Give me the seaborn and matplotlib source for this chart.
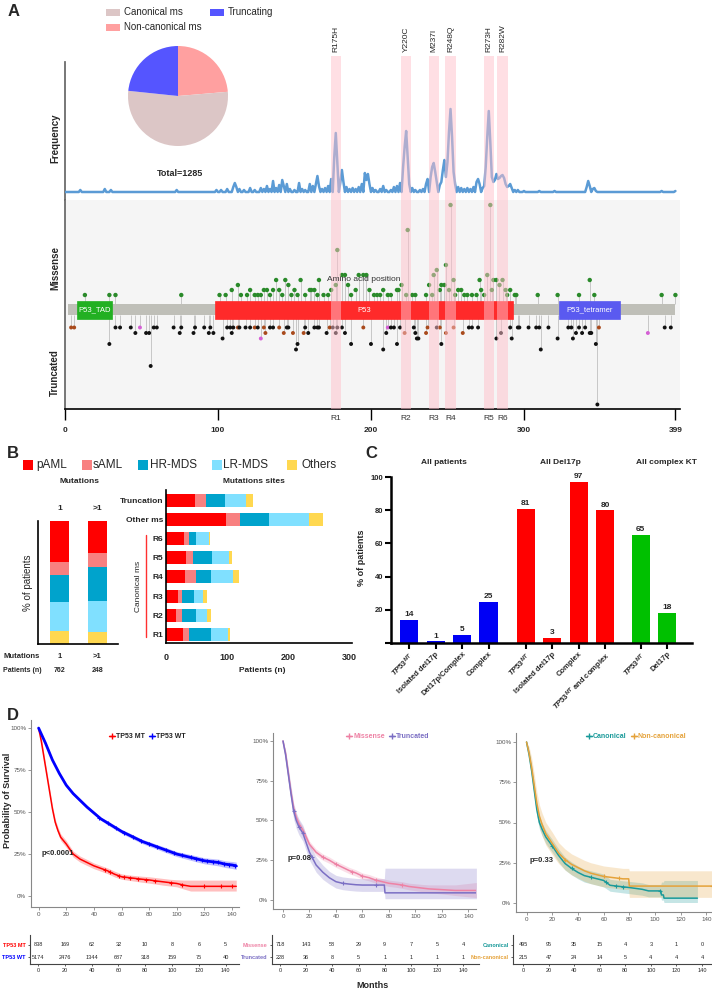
import numpy as np
import matplotlib
matplotlib.use("Agg")
import matplotlib.pyplot as plt
from matplotlib.patches import Rectangle
from matplotlib.lines import Line2D
import seaborn as sns

W, H = 712, 991

# ---------------------------------------------------------------------------
# Data
# ---------------------------------------------------------------------------

# Panel A - pie
pie_labels = ["Non-canonical ms", "Canonical ms", "Truncating"]
pie_counts = [304, 681, 300]
pie_colors = ["#FFA0A0", "#DCC6C6", "#5555FF"]
total_mutations = 1285

# Panel A - hotspots
hotspot_labels = ["R175H", "Y220C", "M237I", "R248Q", "R273H", "R282W"]
hotspot_pos = [177, 223, 241, 252, 277, 286]
region_labels = ["R1", "R2", "R3", "R4", "R5", "R6"]

# Panel A - frequency trace (nonzero positions only)
freq_pos = [10, 26, 30, 73, 99, 102, 106, 110, 111, 112, 114, 117, 121, 124, 128, 130,
            132, 134, 136, 138, 140, 142, 143, 145, 147, 150, 153, 155, 157, 160, 162,
            164, 165, 166, 168, 170, 172, 174, 176, 177, 178, 180, 181, 182, 184, 186,
            188, 190, 192, 194, 196, 197, 198, 199, 201, 203, 206, 208, 210, 213, 215,
            217, 219, 221, 222, 223, 224, 225, 227, 229, 232, 234, 236, 237, 239, 240,
            241, 242, 243, 245, 246, 247, 248, 249, 250, 251, 252, 253, 254, 255, 257,
            259, 261, 263, 265, 267, 269, 270, 271, 273, 274, 275, 276, 277, 278, 279,
            280, 281, 282, 283, 284, 285, 286, 287, 288, 289, 290, 291, 292, 294, 296,
            300, 310, 320, 341, 342, 343, 345, 346, 347, 390, 399]
freq_val = [2, 3, 2, 2, 2, 2, 3, 5, 9, 5, 3, 2, 4, 2, 4, 3,
            6, 3, 11, 4, 7, 12, 6, 8, 3, 2, 9, 3, 2, 8, 6,
            8, 16, 6, 3, 4, 6, 13, 35, 59, 30, 10, 22, 10, 5, 3,
            4, 3, 5, 8, 19, 12, 18, 8, 4, 2, 3, 6, 2, 2, 5,
            6, 9, 25, 45, 61, 35, 8, 4, 2, 2, 3, 8, 13, 15, 25,
            29, 20, 10, 7, 10, 22, 32, 15, 30, 60, 83, 55, 20, 8, 5,
            4, 3, 4, 3, 5, 10, 13, 8, 4, 6, 25, 55, 81, 50, 15,
            10, 12, 18, 13, 14, 16, 17, 14, 8, 5, 6, 8, 4, 2, 2,
            1, 1, 1, 5, 11, 6, 3, 4, 1, 1, 1]

# Panel A - missense lollipops (position, count)
missense_pos = [13, 29, 33, 76, 101, 105, 109, 113, 115, 119, 121, 124, 126, 128, 130, 132,
                134, 136, 138, 140, 142, 144, 146, 148, 150, 152, 154, 157, 160, 161, 163,
                165, 166, 169, 172, 174, 177, 178, 181, 183, 185, 187, 190, 192, 195, 197,
                199, 202, 204, 206, 208, 211, 213, 217, 218, 220, 223, 224, 227, 229, 236,
                238, 240, 241, 243, 245, 246, 248, 249, 251, 252, 254, 255, 257, 259, 261,
                263, 266, 269, 271, 272, 274, 276, 278, 279, 280, 282, 284, 286, 288, 289,
                291, 294, 295, 309, 322, 336, 343, 346, 390, 399]
missense_cnt = [1, 1, 1, 1, 1, 1, 2, 3, 1, 1, 2, 1, 1, 1, 2, 2,
                1, 2, 4, 2, 1, 4, 3, 1, 2, 1, 4, 1, 2, 2, 2,
                1, 4, 1, 1, 2, 3, 10, 5, 5, 3, 1, 2, 5, 5, 5,
                2, 1, 1, 1, 2, 1, 1, 2, 2, 3, 1, 14, 1, 1, 1,
                3, 1, 5, 6, 2, 3, 3, 7, 2, 19, 4, 1, 2, 2, 1,
                1, 1, 1, 4, 2, 1, 5, 19, 2, 4, 4, 3, 4, 2, 1,
                2, 1, 1, 1, 1, 1, 4, 1, 1, 1]

# Panel A - truncating lollipops (position, count, type)
trunc_pos = [4, 6, 29, 33, 36, 43, 46, 49, 53, 55, 56, 58, 60, 71, 75, 76, 84, 85, 91, 94,
             95, 97, 103, 106, 108, 109, 110, 113, 114, 118, 121, 124, 126, 128, 130, 131,
             134, 136, 140, 143, 145, 146, 149, 151, 152, 156, 157, 159, 163, 165, 166,
             171, 173, 175, 177, 178, 181, 183, 187, 195, 200, 208, 210, 211, 213, 215,
             217, 219, 222, 228, 229, 230, 231, 236, 237, 243, 245, 246, 249, 254, 260,
             264, 266, 270, 282, 285, 291, 292, 296, 297, 303, 308, 310, 311, 316, 322,
             329, 331, 332, 334, 336, 338, 340, 343, 344, 347, 348, 349, 381, 392, 396]
trunc_cnt = [1, 1, 4, 1, 1, 1, 2, 1, 2, 2, 8, 1, 1, 1, 2, 1, 2, 1, 1, 2,
             1, 2, 3, 1, 1, 2, 1, 1, 1, 1, 1, 1, 1, 3, 1, 2,
             1, 1, 1, 2, 1, 1, 2, 5, 4, 2, 1, 2, 1, 1, 1,
             2, 1, 1, 2, 1, 1, 2, 4, 1, 4, 5, 2, 1, 1, 1,
             4, 1, 2, 1, 2, 3, 3, 2, 1, 1, 1, 4, 2, 1, 2,
             1, 1, 1, 3, 2, 1, 3, 1, 1, 1, 1, 1, 5, 1, 3,
             1, 1, 3, 2, 1, 2, 1, 2, 2, 4, 15, 1, 2, 1, 1]
trunc_type = ["fs", "fs", "non", "non", "non", "non", "non", "spl", "non", "non", "non", "non",
              "non", "non", "non", "non", "non", "non", "non", "non",
              "non", "non", "non", "non", "non", "non", "non", "fs", "non", "non", "non", "fs",
              "non", "spl", "fs", "fs",
              "non", "non", "fs", "fs", "non", "non", "fs", "non", "non", "fs", "non", "non",
              "non", "non", "non",
              "non", "fs", "non", "non", "non", "non", "non", "non", "fs", "non", "non", "non",
              "spl", "non", "non",
              "non", "non", "fs", "non", "non", "non", "non", "fs", "fs", "non", "fs", "non",
              "fs", "fs", "fs",
              "non", "non", "non", "non", "non", "non", "non", "non", "non", "non", "non",
              "non", "non", "non", "non",
              "non", "non", "non", "non", "non", "non", "non", "non", "non", "non", "non",
              "fs", "spl", "non", "non"]

domain_names = ["P53_TAD", "P53", "P53_tetramer"]
domain_start = [8, 98, 323]
domain_end = [31, 293, 363]
domain_colors = ["#22B022", "#FF2A2A", "#5A5AF0"]

# Panel B - legend / categories
dx_names = ["pAML", "sAML", "HR-MDS", "LR-MDS", "Others"]
dx_colors = ["#FF0000", "#F88080", "#00A3CC", "#80E0FF", "#FFD850"]

# Panel B left - % by number of mutations
mut_groups = ["1", ">1"]
mut_patients = [762, 248]
mut_pct = {
    "pAML":   [33.3, 26.0],
    "sAML":   [10.6, 11.4],
    "HR-MDS": [22.0, 27.6],
    "LR-MDS": [23.6, 25.2],
    "Others": [10.5, 9.8],
}

# Panel B right - patients by mutation site
site_labels = ["Truncation", "Other ms", "R6", "R5", "R4", "R3", "R2", "R1"]
site_counts = {
    "pAML":   [47, 98, 29, 33, 31, 20, 16, 28],
    "sAML":   [18, 24, 8, 12, 19, 6, 11, 9],
    "HR-MDS": [31, 47, 13, 30, 23, 20, 23, 36],
    "LR-MDS": [36, 65, 20, 28, 37, 14, 18, 28],
    "Others": [11, 23, 2, 5, 10, 7, 6, 4],
}

# Panel C
c_labels = [r"$\it{TP53}^{MT}$", "Isolated del17p", "Del17p/Complex", "Complex",
            r"$\it{TP53}^{MT}$", "Isolated del17p", "Complex", r"$\it{TP53}^{MT}$ and complex",
            r"$\it{TP53}^{MT}$", "Del17p"]
c_values = [14, 1, 5, 25, 81, 3, 97, 80, 65, 18]
c_group = ["All patients"] * 4 + ["All Del17p"] * 4 + ["All complex KT"] * 2
group_colors = {"All patients": "#0000F5", "All Del17p": "#FF0000", "All complex KT": "#00C000"}

# Panel D - Kaplan-Meier curves (months, survival %)
mt_t = [0, 2, 4, 6, 8, 10, 12, 14, 16, 18, 20, 25, 30, 35, 40, 45, 50, 55, 60, 65, 70, 75,
        80, 85, 90, 95, 100, 105, 110, 143]
mt_s = [100, 92, 82, 72, 62, 52, 44, 39, 35, 33, 31, 25, 22, 20, 18, 16.5, 15, 13, 11.5, 11,
        10.5, 10, 9.6, 9, 8.5, 8, 7.5, 6.5, 5.8, 5.8]
mt_lo = [100, 90, 80, 70, 60, 50, 42, 37, 33, 31, 29, 23.2, 20.2, 18.2, 16.3, 14.8, 13.3,
         11.4, 10, 9.4, 8.8, 8.2, 7.7, 7.1, 6.5, 6, 5.5, 4.2, 3, 3]
mt_hi = [100, 94, 84, 74, 64, 54, 46, 41, 37, 35, 33, 26.8, 23.8, 21.8, 19.7, 18.2, 16.7,
         14.8, 13.2, 12.6, 12.2, 11.8, 11.5, 11, 10.5, 10, 9.7, 9.5, 9.5, 9.5]
mt_cens = [48, 52, 58, 62, 66, 72, 78, 84, 96, 104, 120, 132, 140]

wt_t = [0, 5, 10, 15, 20, 25, 30, 35, 40, 45, 50, 55, 60, 65, 70, 75, 80, 85, 90, 95, 100,
        105, 110, 115, 120, 125, 130, 135, 140, 143]
wt_s = [100, 91, 81, 73, 66, 61, 57, 53, 49.5, 46, 43.5, 41, 38.5, 36.5, 34.5, 32.5, 31,
        29.5, 28, 26.5, 25, 24, 23, 22, 21, 20.5, 20, 19, 18.5, 18]
wt_lo = [100, 90, 80, 72, 65, 60, 56, 52, 48.5, 45, 42.3, 39.8, 37.3, 35.2, 33.2, 31.2, 29.6,
         28.1, 26.5, 25, 23.5, 22.4, 21.3, 20.2, 19.2, 18.6, 18, 17, 16.4, 15.8]
wt_hi = [100, 92, 82, 74, 67, 62, 58, 54, 50.5, 47, 44.7, 42.2, 39.7, 37.8, 35.8, 33.8, 32.4,
         30.9, 29.5, 28, 26.5, 25.6, 24.7, 23.8, 22.8, 22.4, 22, 21, 20.6, 20.2]
wt_cens = [44, 50, 56, 62, 68, 74, 80, 86, 92, 98, 104, 110, 114, 118, 122, 126, 130, 134,
           138, 142]

mis_t = [0, 2, 4, 6, 8, 10, 12, 15, 20, 25, 30, 35, 40, 45, 50, 55, 60, 65, 70, 75, 80, 85,
         90, 95, 100, 105, 110, 120, 130, 146]
mis_s = [100, 92, 80, 68, 58, 52, 48, 44, 35, 30, 27, 25, 22.5, 20.5, 18.5, 17, 15, 14,
         12.5, 11.5, 10.5, 10, 9.4, 8.5, 8, 7.5, 7, 6.5, 6, 6]
mis_lo = [100, 90.5, 78, 66, 56, 50, 46, 42, 33, 28, 25, 23, 20.5, 18.5, 16.5, 15, 13, 12,
          10.5, 9.5, 8.5, 8, 7.3, 6.4, 5.8, 5.2, 4.5, 3.8, 2.8, 1.5]
mis_hi = [100, 93.5, 82, 70, 60, 54, 50, 46, 37, 32, 29, 27, 24.5, 22.5, 20.5, 19, 17, 16,
          14.5, 13.5, 12.5, 12, 11.5, 10.6, 10.2, 9.8, 9.5, 9.5, 9.5, 11]
mis_cens = [30, 40, 52, 60, 70, 90]

tru_t = [0, 2, 4, 6, 8, 10, 12, 15, 20, 25, 30, 35, 40, 45, 50, 55, 60, 70, 76.5, 77, 146]
tru_s = [100, 91, 79, 67, 56, 50, 46, 42, 30, 22, 17.5, 14, 11.5, 10.5, 10, 9.6, 9.4, 9.4,
         9.4, 4.5, 4.5]
tru_lo = [100, 88, 75, 62, 51, 45, 41, 37, 25, 17.5, 13, 10, 7.5, 6.5, 6, 5.6, 5.4, 5.4,
          5.4, 0.8, 0.8]
tru_hi = [100, 94, 83, 72, 61, 55, 51, 47, 35, 27, 22, 18, 15.5, 14.5, 14, 13.6, 13.4,
          13.4, 13.4, 20, 20]
tru_cens = [8, 12, 15, 22, 45, 70]

can_t = [0, 2, 4, 6, 8, 10, 12, 15, 20, 25, 30, 35, 40, 45, 50, 55, 60, 65, 70, 80, 90, 95,
         104.5, 105, 106.5, 107, 133]
can_s = [100, 92, 82, 70, 58, 50, 46, 41, 35.5, 29.5, 24.5, 21.5, 19, 17, 16, 15, 14, 11,
         10.5, 9.6, 8.5, 7.5, 7.5, 5, 5, 3, 3]
can_lo = [100, 89, 78, 66, 54, 46, 42, 37, 31.5, 25.5, 20.5, 17.5, 15, 13, 12, 11, 10, 7.3,
          6.8, 5.8, 4.8, 3.8, 3.8, 1.8, 1.8, 0.3, 0.3]
can_hi = [100, 95, 86, 74, 62, 54, 50, 45, 39.5, 33.5, 28.5, 25.5, 23, 21, 20, 19, 18, 14.7,
          14.2, 13.4, 12.5, 11.5, 11.5, 13, 13, 14, 14]
can_cens = [20, 35, 50, 62, 70, 75, 104]

non_t = [0, 2, 4, 6, 8, 10, 12, 15, 20, 25, 30, 35, 40, 45, 50, 55, 60, 65, 70, 75, 79.5,
         80, 146]
non_s = [100, 93, 84, 73, 62, 54, 49, 43, 37, 31, 27, 24, 22, 20, 18.5, 17.5, 16.5, 16,
         15.5, 15, 15, 10.5, 10.5]
non_lo = [100, 89, 78, 66, 55, 47, 42, 36, 30, 24.5, 20.5, 17.5, 15.5, 13.5, 12, 11, 10,
          9.5, 9, 8.5, 8.5, 3.5, 3.5]
non_hi = [100, 97, 90, 80, 69, 61, 56, 50, 44, 37.5, 33.5, 30.5, 28.5, 26.5, 25, 24, 23,
          22.5, 22, 21.5, 21.5, 20, 20]
non_cens = [30, 60, 72, 144]

# Panel D - numbers at risk
risk_t = [0, 20, 40, 60, 80, 100, 120, 140]
risk_mt = [838, 169, 62, 32, 10, 8, 6, 5]
risk_wt = [5174, 2476, 1344, 687, 318, 159, 75, 40]
risk_mis = [718, 143, 58, 29, 9, 7, 5, 4]
risk_tru = [228, 36, 8, 5, 1, 1, 1, 1]
risk_can = [495, 95, 35, 15, 4, 3, 1, 0]
risk_non = [215, 47, 24, 14, 5, 4, 4, 4]


# ---------------------------------------------------------------------------
# Helpers
# ---------------------------------------------------------------------------

sns.set_theme(style="white")
plt.rcParams["font.family"] = ["Liberation Sans", "DejaVu Sans"]
plt.rcParams["mathtext.fontset"] = "custom"
plt.rcParams["mathtext.it"] = "Liberation Sans:italic:bold"
plt.rcParams["mathtext.rm"] = "Liberation Sans:bold"
plt.rcParams["mathtext.bf"] = "Liberation Sans:bold"

fig = plt.figure(figsize=(W / 100, H / 100), dpi=100)


def add_ax(x0, y0, x1, y1):
    """Axes placed in pixel coords (origin top-left)."""
    return fig.add_axes([x0 / W, 1 - y1 / H, (x1 - x0) / W, (y1 - y0) / H])


def ftext(x, y, s, **kw):
    kw.setdefault("ha", "center")
    kw.setdefault("va", "center")
    fig.text(x / W, 1 - y / H, s, **kw)


def swatch(x, y, w, h, color):
    fig.patches.append(Rectangle((x / W, 1 - (y + h / 2) / H), w / W, h / H,
                                 transform=fig.transFigure, color=color, lw=0))


def fline(x0, y0, x1, y1, **kw):
    fig.lines.append(Line2D([x0 / W, x1 / W], [1 - y0 / H, 1 - y1 / H],
                            transform=fig.transFigure, **kw))


def clean(ax):
    for s in ax.spines.values():
        s.set_visible(False)
    ax.set_xticks([])
    ax.set_yticks([])


BAND = dict(color="#FFC0CB", alpha=0.5, lw=0, zorder=6)

# ---------------------------------------------------------------------------
# Panel A
# ---------------------------------------------------------------------------
ftext(8, 12, "A", fontsize=12, fontweight="bold", ha="left")

# pie + legend
ax_p = add_ax(128, 46, 228, 146)
ax_p.pie(pie_counts, colors=pie_colors, startangle=90, counterclock=False,
         wedgeprops=dict(linewidth=0))
ax_p.set_xlim(-1, 1)
ax_p.set_ylim(-1, 1)
ax_p.set_aspect("auto")
swatch(106, 12, 14, 7, "#DCC6C6")
ftext(124, 12, "Canonical ms", fontsize=7, ha="left")
swatch(106, 27, 14, 7, "#FFA0A0")
ftext(124, 27, "Non-canonical ms", fontsize=7, ha="left")
swatch(210, 12, 14, 7, "#5555FF")
ftext(228, 12, "Truncating", fontsize=7, ha="left")
ftext(180, 173, f"Total={total_mutations}", fontsize=6.5, fontweight="bold")

# frequency trace
ax_f = add_ax(65, 62, 680, 200)
aa = np.arange(400)
freq = np.zeros(aa.size)
freq[freq_pos] = freq_val
sns.lineplot(x=aa, y=freq, ax=ax_f, color="#5B9BD5", lw=1.8, zorder=3)
ax_f.set_xlim(0, 402)
ax_f.set_ylim(-8, 130)
ax_f.patch.set_alpha(0)
clean(ax_f)
ax_f.spines["left"].set_visible(True)
ax_f.spines["left"].set_color("#666666")
for p, lab in zip(hotspot_pos, hotspot_labels):
    ax_f.axvspan(p - 3.3, p + 3.3, ymin=0, ymax=1.045, clip_on=False, **BAND)
    ax_f.text(p, 140, lab, rotation=90, ha="center", va="bottom", fontsize=6,
              clip_on=False)
ftext(55, 138, "Frequency", fontsize=7, fontweight="bold", rotation=90)

# lollipop plot
ax_l = add_ax(65, 200, 680, 409)
ax_l.set_facecolor("#F5F5F5")
ax_l.set_xlim(0, 402)
ax_l.set_ylim(409, 200)
mis_y = [300 - 5 * c for c in missense_cnt]
tru_y = [322 + 5.5 * c for c in trunc_cnt]
ax_l.vlines(missense_pos, 304, mis_y, color="#B5B5B5", lw=0.5, zorder=1)
ax_l.vlines(trunc_pos, 315, tru_y, color="#B5B5B5", lw=0.5, zorder=1)
ax_l.add_patch(Rectangle((2, 304), 397, 11, color="#BFBFB8", lw=0, zorder=2))
for name, s, e, col in zip(domain_names, domain_start, domain_end, domain_colors):
    ax_l.add_patch(Rectangle((s, 301), e - s, 18, fc=col, ec=col, lw=0.5, zorder=2))
    ax_l.text((s + e) / 2, 310, name, color="white", fontsize=5.5, ha="center",
              va="center", zorder=3)
sns.scatterplot(x=missense_pos, y=mis_y, ax=ax_l, color="#2A8A2A", s=10,
                edgecolor="none", zorder=4)
sns.scatterplot(x=trunc_pos, y=tru_y, hue=trunc_type, ax=ax_l, s=8, edgecolor="none",
                palette={"non": "#111111", "fs": "#A94A1C", "spl": "#D55FD5"},
                legend=False, zorder=4)
for p, r in zip(hotspot_pos, region_labels):
    ax_l.axvspan(p - 3.3, p + 3.3, **BAND)
    ax_l.text(p, 418, r, ha="center", va="center", fontsize=6, color="#333333",
              clip_on=False)
ax_l.text(195, 279, "Amino acid position", fontsize=6, ha="center", va="center",
          color="#333333", zorder=7)
for s in ["top", "right"]:
    ax_l.spines[s].set_visible(False)
ax_l.spines["left"].set_color("#666666")
ax_l.spines["bottom"].set_color("black")
ax_l.spines["bottom"].set_linewidth(1.2)
ax_l.set_yticks([])
ax_l.set_xticks([0, 100, 200, 300, 399])
ax_l.set_xticklabels(["0", "100", "200", "300", "399"], fontsize=6, fontweight="bold")
ax_l.tick_params(axis="x", bottom=True, length=8, width=1, pad=5, color="black")
ax_l.set_xlabel("")
ax_l.set_ylabel("")
ftext(55, 268, "Missense", fontsize=7, fontweight="bold", rotation=90)
ftext(55, 373, "Truncated", fontsize=7, fontweight="bold", rotation=90)

# ---------------------------------------------------------------------------
# Panel B
# ---------------------------------------------------------------------------
ftext(7, 453, "B", fontsize=12, fontweight="bold", ha="left")
leg_x = [(23, 36), (82, 93), (138, 150), (212, 223), (287, 302)]
for (sx, tx), name, col in zip(leg_x, dx_names, dx_colors):
    swatch(sx, 465, 10, 10, col)
    ftext(tx, 465, name, fontsize=8.5, ha="left")

# left: stacked % bars
ax_bl = add_ax(38, 521, 118, 644)
bottom = np.zeros(len(mut_groups))
for name, col in zip(dx_names[::-1], dx_colors[::-1]):
    vals = np.array(mut_pct[name])
    ax_bl.bar(range(len(mut_groups)), vals, bottom=bottom, width=0.5, color=col, lw=0)
    bottom += vals
ax_bl.set_xlim(-0.566, 1.54)
ax_bl.set_ylim(0, 100)
clean(ax_bl)
for s in ["left", "bottom"]:
    ax_bl.spines[s].set_visible(True)
    ax_bl.spines[s].set_color("black")
    ax_bl.spines[s].set_linewidth(1.2)
ftext(79, 482, "Mutations", fontsize=6, fontweight="bold")
for i, g in enumerate(mut_groups):
    xx = 59.5 + 38 * i
    ftext(xx, 508, g, fontsize=6, fontweight="bold")
    ftext(xx, 656, g, fontsize=5.5, fontweight="bold")
    ftext(xx, 671, str(mut_patients[i]), fontsize=5, fontweight="bold")
ftext(3, 656, "Mutations", fontsize=5.5, fontweight="bold", ha="left")
ftext(3, 671, "Patients (n)", fontsize=5, fontweight="bold", ha="left")
ftext(28, 583, "% of patients", fontsize=7, rotation=90)

# right: stacked counts by site
ax_br = add_ax(166, 490, 352, 643)
left = np.zeros(len(site_labels))
ypos = np.arange(len(site_labels))
for name, col in zip(dx_names, dx_colors):
    vals = np.array(site_counts[name])
    ax_br.barh(ypos, vals, left=left, height=0.68, color=col, lw=0)
    left += vals
ax_br.set_xlim(0, 305)
ax_br.set_ylim(7.46, -0.55)
for s in ["top", "right"]:
    ax_br.spines[s].set_visible(False)
for s in ["left", "bottom"]:
    ax_br.spines[s].set_color("black")
    ax_br.spines[s].set_linewidth(1.2)
ax_br.set_yticks(ypos)
ax_br.set_yticklabels(site_labels, fontsize=6, fontweight="bold")
ax_br.set_xticks([0, 100, 200, 300])
ax_br.set_xticklabels(["0", "100", "200", "300"], fontsize=6.5, fontweight="bold")
ax_br.tick_params(axis="both", length=0, pad=2)
ax_br.tick_params(axis="x", pad=7)
ftext(254, 482, "Mutations sites", fontsize=6, fontweight="bold")
ftext(262, 671, "Patients (n)", fontsize=6, fontweight="bold")
fline(146, 535, 146, 637, color="#FF3030", lw=1)
ftext(139, 586, "Canonical ms", fontsize=6, rotation=90)

# ---------------------------------------------------------------------------
# Panel C
# ---------------------------------------------------------------------------
ftext(365, 454, "C", fontsize=12, fontweight="bold", ha="left")
ax_c = add_ax(391, 477, 692, 643)
c_x = [0, 1, 2, 3, 4.4, 5.4, 6.4, 7.4, 8.75, 9.75]
c_cols = [group_colors[g] for g in c_group]
ax_c.bar(c_x, c_values, width=0.68, color=c_cols, lw=0)
for x, v in zip(c_x, c_values):
    ax_c.text(x, v + 1, str(v), ha="center", va="bottom", fontsize=6, fontweight="bold")
ax_c.set_xlim(-0.68, 10.68)
ax_c.set_ylim(0, 100)
for s in ["top", "right"]:
    ax_c.spines[s].set_visible(False)
for s in ["left", "bottom"]:
    ax_c.spines[s].set_color("black")
    ax_c.spines[s].set_linewidth(1.8)
ax_c.set_yticks([0, 20, 40, 60, 80, 100])
ax_c.set_yticklabels(["", "20", "40", "60", "80", "100"], fontsize=5.5, fontweight="bold")
ax_c.set_xticks(c_x)
ax_c.set_xticklabels(c_labels, rotation=45, ha="right", rotation_mode="anchor",
                     fontsize=5.5, fontweight="bold")
ax_c.tick_params(axis="both", left=True, bottom=True, length=4, width=1.5,
                 color="black", pad=1.5)
for x, g in zip([1.32, 5.7, 9.7], ["All patients", "All Del17p", "All complex KT"]):
    ax_c.text(x, 108.5, g, ha="center", va="center", fontsize=6, fontweight="bold",
              clip_on=False)
ftext(362, 558, "% of patients", fontsize=6.5, fontweight="bold", rotation=90)

# ---------------------------------------------------------------------------
# Panel D
# ---------------------------------------------------------------------------
ftext(7, 716, "D", fontsize=12, fontweight="bold", ha="left")
ftext(8, 800, "Probability of Survival", fontsize=6.5, fontweight="bold", rotation=90)
ftext(372, 985, "Months", fontsize=6.5, fontweight="bold")


def km_axes(box, xlim, ylim, curves, leg_xy, text_colored, pval, pval_x):
    ax = add_ax(*box)
    handles, labels = [], []
    for name, t, s, lo, hi, cens, col, lw in curves:
        ax.fill_between(t, lo, hi, color=col, alpha=0.25, lw=0)
        sns.lineplot(x=t, y=s, ax=ax, color=col, lw=lw, estimator=None, sort=False)
        ax.plot(cens, np.interp(cens, t, s), "+", color=col, ms=3.5, mew=0.8)
        handles.append(Line2D([], [], color=col, marker="+", lw=1, ms=4))
        labels.append(name)
    ax.set_xlim(*xlim)
    ax.set_ylim(*ylim)
    for sp in ["top", "right"]:
        ax.spines[sp].set_visible(False)
    for sp in ["left", "bottom"]:
        ax.spines[sp].set_color("#888888")
        ax.spines[sp].set_linewidth(0.8)
    ax.set_xticks(risk_t)
    ax.set_xticklabels([str(v) for v in risk_t], fontsize=4.5, color="#555555")
    ax.set_yticks([0, 25, 50, 75, 100])
    ax.set_yticklabels(["0%", "25%", "50%", "75%", "100%"], fontsize=4.5, color="#555555")
    ax.tick_params(axis="both", left=True, bottom=True, length=2, width=0.6,
                   color="#888888", pad=1.5)
    ax.set_xlabel("")
    ax.set_ylabel("")
    leg = fig.legend(handles, labels, ncol=2, loc="center left", frameon=False,
                     bbox_to_anchor=(leg_xy[0] / W, 1 - leg_xy[1] / H),
                     handlelength=0.8, handletextpad=0.2,
                     columnspacing=0.6, prop=dict(weight="bold", size=5))
    for txt, (_, _, _, _, _, _, col, _) in zip(leg.get_texts(), curves):
        txt.set_color(col if text_colored else "#222222")
    ax.text(pval_x, 0.285, pval, transform=ax.transAxes,
            fontsize=5.5, fontweight="bold", ha="left", va="center")
    return ax


km_axes((31, 720, 239, 907), (-5.5, 145), (-6.5, 104.8),
        [("TP53 MT", mt_t, mt_s, mt_lo, mt_hi, mt_cens, "#FF0000", 1.1),
         ("TP53 WT", wt_t, wt_s, wt_lo, wt_hi, wt_cens, "#0000FF", 2.0)],
        (103, 737), False, "p<0.0001", 0.05)
km_axes((273, 733, 476, 909), (-7.55, 145.7), (-5.66, 105),
        [("Missense", mis_t, mis_s, mis_lo, mis_hi, mis_cens, "#EE82A5", 1.1),
         ("Truncated", tru_t, tru_s, tru_lo, tru_hi, tru_cens, "#7B6FC4", 1.1)],
        (340, 737), True, "p=0.08", 0.07)
km_axes((516, 733, 714, 912), (-8.2, 145.9), (-5.6, 105.6),
        [("Canonical", can_t, can_s, can_lo, can_hi, can_cens, "#1A9A9A", 1.1),
         ("Non-canonical", non_t, non_s, non_lo, non_hi, non_cens, "#E5A23A", 1.1)],
        (580, 737), True, "p=0.33", 0.07)


def risk_table(box, xlim, rows):
    ax = add_ax(*box)
    for i, (name, vals, col) in enumerate(rows):
        yy = len(rows) - 1 - i
        for t, v in zip(risk_t, vals):
            ax.text(t, yy, str(v), ha="center", va="center", fontsize=4)
    ax.set_xlim(*xlim)
    ax.set_ylim(-0.58, 1.83)
    for sp in ["top", "right"]:
        ax.spines[sp].set_visible(False)
    for sp in ["left", "bottom"]:
        ax.spines[sp].set_color("#444444")
        ax.spines[sp].set_linewidth(0.8)
    ax.set_yticks([1, 0])
    ax.set_yticklabels([r[0] for r in rows], fontsize=4, fontweight="bold")
    for lab, (_, _, col) in zip(ax.get_yticklabels(), rows):
        lab.set_color(col)
    ax.set_xticks(risk_t)
    ax.set_xticklabels([str(v) for v in risk_t], fontsize=4)
    ax.tick_params(axis="both", left=True, bottom=True, length=1.5, width=0.6,
                   color="#444444", pad=1.5)
    return ax


risk_table((30, 935, 239, 964), (-6, 150),
           [("TP53 MT", risk_mt, "#FF0000"), ("TP53 WT", risk_wt, "#0000FF")])
risk_table((272, 935, 479, 964), (-6.1, 152),
           [("Missense", risk_mis, "#EE82A5"), ("Truncated", risk_tru, "#7B6FC4")])
risk_table((513, 935, 712, 964), (-7.8, 147.8),
           [("Canonical", risk_can, "#1A9A9A"), ("Non-canonical", risk_non, "#E5A23A")])

fig.savefig("out.png", dpi=100)
